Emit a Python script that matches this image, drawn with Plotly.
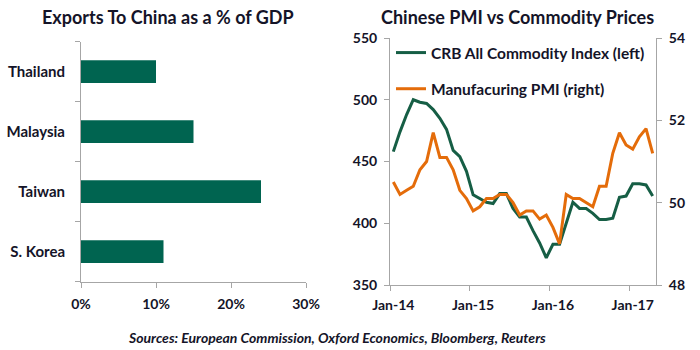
import pandas as pd
import plotly.graph_objects as go

# ---------------- data ----------------
countries = ["Thailand", "Malaysia", "Taiwan", "S. Korea"]
exports_pct = [0.10, 0.15, 0.24, 0.11]

months = [d.strftime("%b-%y") for d in pd.date_range("2014-01-01", "2017-04-01", freq="MS")]
crb_index = [458, 474, 488, 500, 498, 497, 492, 485, 476, 459, 454, 442,
             423, 420, 417, 416, 424, 424, 412, 405, 405, 394, 384, 372,
             383, 383, 401, 417, 412, 412, 408, 403, 403, 404, 421, 422,
             432, 432, 431, 422]
pmi = [50.5, 50.2, 50.3, 50.4, 50.8, 51.0, 51.7, 51.1, 51.1, 50.8, 50.3, 50.1,
       49.8, 49.9, 50.1, 50.1, 50.2, 50.2, 50.0, 49.7, 49.8, 49.8, 49.6, 49.7,
       49.4, 49.0, 50.2, 50.1, 50.1, 50.0, 49.9, 50.4, 50.4, 51.2, 51.7, 51.4,
       51.3, 51.6, 51.8, 51.2]
x_ticklabels = ["Jan-14", "Jan-15", "Jan-16", "Jan-17"]
month_idx = list(range(len(months)))
label_pos = [months.index(t) for t in x_ticklabels]

# ---------------- styles ----------------
W, H = 700, 350
FONT = "Lato"
TXT = "#141428"
AXC = "#A6A6A6"
GREEN_BAR = "#006450"
GREEN_LINE = "#165E45"
ORANGE = "#E46C0A"

def px_x(p):
    return p / W

def px_y(p):
    return 1 - p / H

tickfont = dict(family=FONT, size=14, color=TXT, weight="bold")

fig = go.Figure()

fig.add_trace(go.Bar(
    x=exports_pct, y=countries, orientation="h",
    marker=dict(color=GREEN_BAR, line=dict(width=0)),
    xaxis="x", yaxis="y", showlegend=False, hoverinfo="skip",
))

fig.add_trace(go.Scatter(
    x=month_idx, y=crb_index, mode="lines",
    line=dict(color=GREEN_LINE, width=3),
    name="CRB All Commodity Index (left)",
    xaxis="x2", yaxis="y2", legendgroup="a",
))
fig.add_trace(go.Scatter(
    x=month_idx, y=pmi, mode="lines",
    line=dict(color=ORANGE, width=3),
    name="Manufacuring PMI (right)",
    xaxis="x2", yaxis="y3", legendgroup="b",
))

axis_common = dict(showline=True, linecolor=AXC, linewidth=1, ticks="outside",
                   tickcolor=AXC, ticklen=5, tickwidth=1, showgrid=False,
                   zeroline=False, tickfont=tickfont, automargin=False)

ann_common = dict(xref="paper", yref="paper", showarrow=False,
                  xanchor="center", yanchor="middle")

fig.update_layout(
    template="none",
    width=W, height=H,
    margin=dict(l=0, r=0, t=0, b=0, pad=0),
    paper_bgcolor="white", plot_bgcolor="white",
    bargap=0.62,
    xaxis=dict(domain=[px_x(81), px_x(306)], anchor="y", range=[0, 0.30],
               tickvals=[0, 0.1, 0.2, 0.3], tickformat=".0%",
               ticklabelstandoff=4, **axis_common),
    yaxis=dict(domain=[px_y(281.7), px_y(41.7)], anchor="x", type="category",
               categoryorder="array", categoryarray=countries[::-1],
               tickson="boundaries", ticklabelstandoff=12,
               **{**axis_common, "tickfont": {**tickfont, "size": 15}}),
    xaxis2=dict(domain=[px_x(390), px_x(656)], anchor="y2",
                range=[-0.5, len(months) - 0.5],
                tickmode="array", tickvals=label_pos, ticktext=x_ticklabels,
                minor=dict(ticks="outside", tick0=-0.5, dtick=12, ticklen=5,
                           tickcolor=AXC, showgrid=False),
                ticklabelstandoff=7,
                **{**axis_common, "ticks": ""}),
    yaxis2=dict(domain=[px_y(285), px_y(38)], anchor="x2", range=[350, 550],
                dtick=50, ticklabelstandoff=4, **axis_common),
    yaxis3=dict(overlaying="y2", anchor="x2", side="right", range=[48, 54],
                dtick=2, ticklabelstandoff=4, **axis_common),
    legend=dict(x=px_x(391), y=px_y(36), xanchor="left", yanchor="top",
                bgcolor="rgba(0,0,0,0)", traceorder="grouped",
                tracegroupgap=13, itemwidth=30,
                font=dict(family=FONT, size=15.5, color=TXT, weight="bold")),
    annotations=[
        dict(text="Exports To China as a % of GDP", x=px_x(168), y=px_y(17),
             font=dict(family=FONT, size=18, color=TXT, weight="bold"), **ann_common),
        dict(text="Chinese PMI vs Commodity Prices", x=px_x(517), y=px_y(17),
             font=dict(family=FONT, size=18, color=TXT, weight="bold"), **ann_common),
        dict(text="<b><i>Sources: European Commission, Oxford Economics, Bloomberg, Reuters</i></b>",
             x=px_x(337), y=px_y(337),
             font=dict(family=FONT, size=14, color=TXT), **ann_common),
    ],
)

fig.write_html("out.html")
